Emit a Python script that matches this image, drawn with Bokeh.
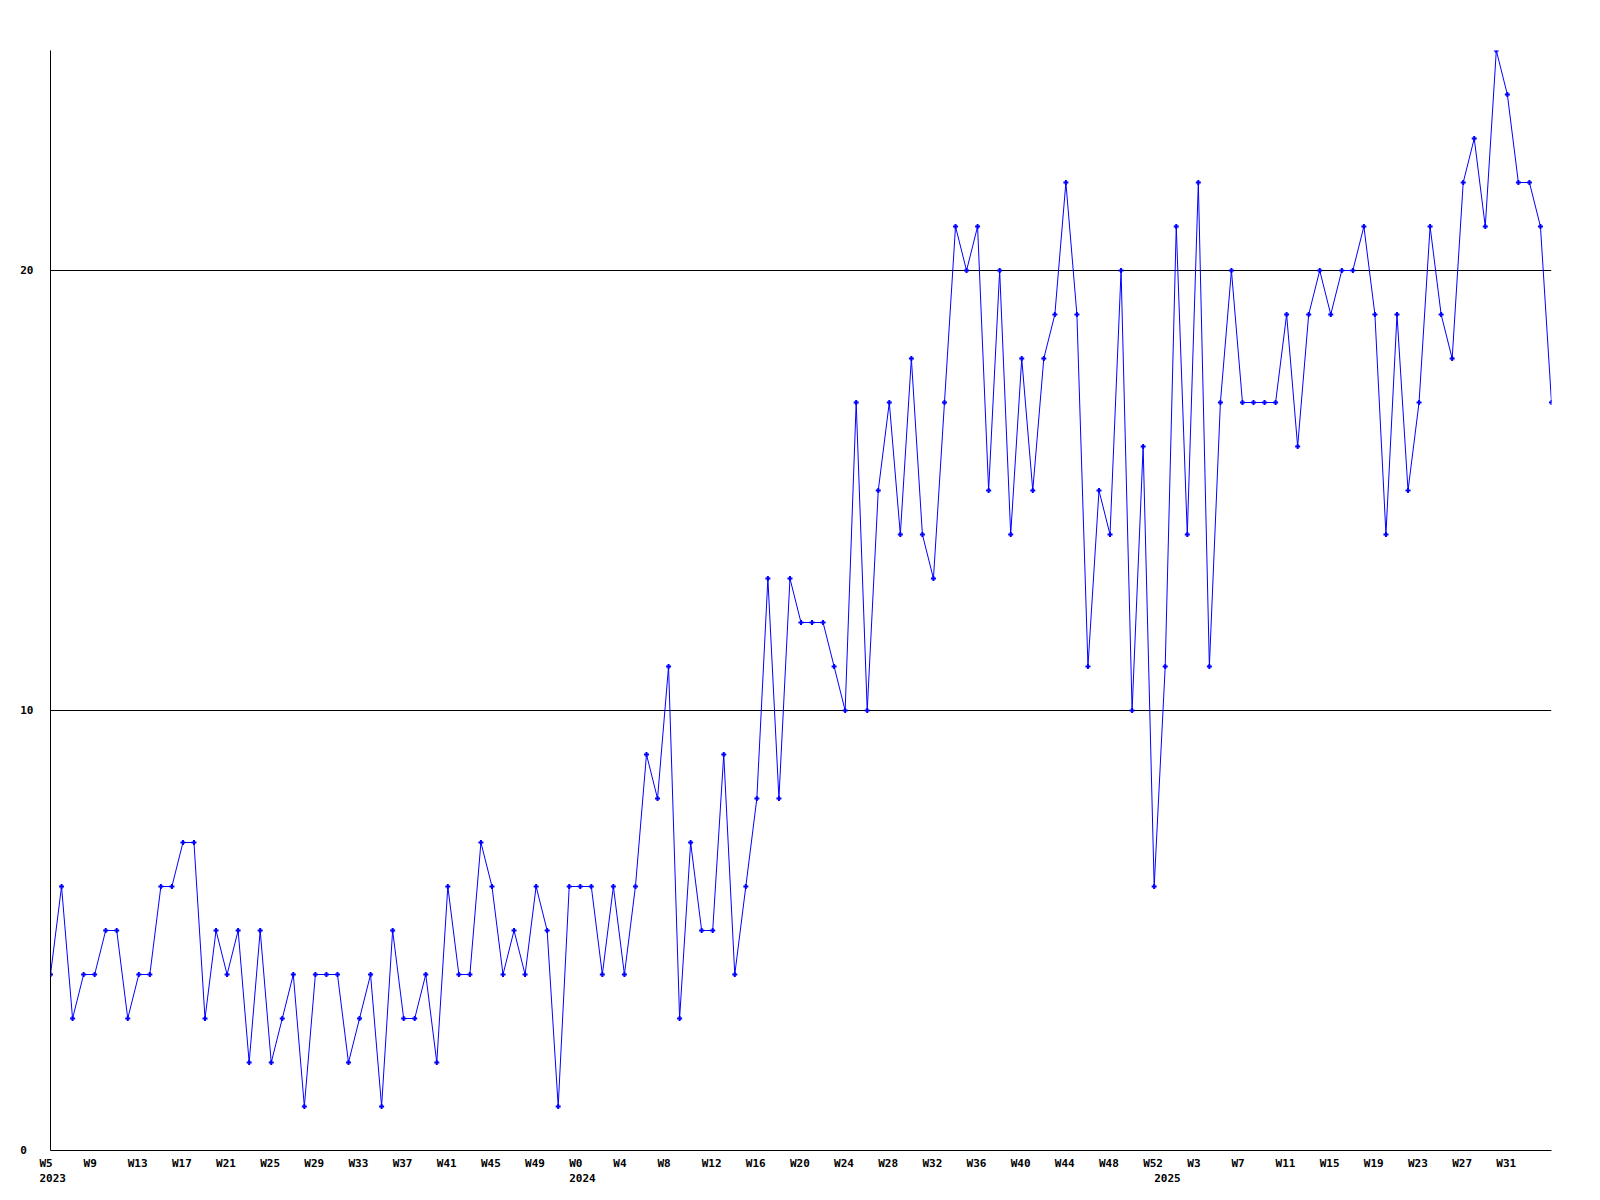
from bokeh.plotting import figure
from bokeh.models import (ColumnDataSource, FixedTicker, Range1d, LinearAxis, Grid)
from bokeh.embed import file_html
from bokeh.resources import INLINE

# ---- data ----
years = [2023] * 48 + [2024] * 53 + [2025] * 36
weeks = list(range(5, 53)) + list(range(0, 53)) + list(range(0, 36))
values = [
    4, 6, 3, 4, 4, 5, 5, 3, 4, 4, 6, 6, 7, 7, 3, 5, 4, 5, 2, 5, 2, 3, 4, 1,
    4, 4, 4, 2, 3, 4, 1, 5, 3, 3, 4, 2, 6, 4, 4, 7, 6, 4, 5, 4, 6, 5, 1, 6,
    6, 6, 4, 6, 4, 6, 9, 8, 11, 3, 7, 5, 5, 9, 4, 6, 8, 13, 8, 13, 12,
    12, 12, 11, 10, 17, 10, 15, 17, 14, 18, 14, 13, 17, 21, 20, 21, 15, 20,
    14, 18, 15, 18, 19, 22, 19, 11, 15, 14, 20, 10, 16, 6, 11, 21, 14, 22,
    11, 17, 20, 17, 17, 17, 17, 19, 16, 19, 20, 19, 20, 20, 21, 19, 14, 19,
    15, 17, 21, 19, 18, 22, 23, 21, 25, 24, 22, 22, 21, 17,
]
y_ticks = [0, 10, 20]
tick_every = 4

FONT = "DejaVu Sans Mono"
NB = "\u00a0"
idx = list(range(len(values)))
n = len(values)

FRAME_W, FRAME_H = 1501, 1100
p = figure(width=1590, height=1190, output_backend="svg", toolbar_location=None,
           x_axis_location=None, y_axis_location=None,
           min_border_left=50, min_border_right=1590 - 50 - FRAME_W,
           min_border_top=50, min_border_bottom=1190 - 50 - FRAME_H,
           x_range=Range1d(0, n - 1), y_range=Range1d(0, 25))
p.outline_line_color = None
p.background_fill_color = "white"
p.border_fill_color = "white"
p.xgrid.visible = False
p.ygrid.visible = False

# label range: shifted so that labels (left edge ~11px before the point) line up
px_per_x = FRAME_W / (n - 1)
shift = 2.2 / px_per_x
p.extra_x_ranges = {"lab": Range1d(-shift, n - 1 - shift)}


def style(ax):
    ax.major_tick_line_color = None
    ax.minor_tick_line_color = None
    ax.major_tick_out = 0
    ax.major_tick_in = 0
    ax.minor_tick_out = 0
    ax.major_label_text_font = FONT
    ax.major_label_text_font_style = "bold"
    ax.major_label_text_font_size = "11px"
    ax.major_label_text_color = "black"
    ax.axis_line_color = "black"
    ax.axis_line_width = 1


# week labels (every 4th point)
tx = [i for i in idx if i % tick_every == 0]
wk_axis = LinearAxis(x_range_name="lab", ticker=FixedTicker(ticks=tx),
                     major_label_overrides={i: ("W%d" % weeks[i]).ljust(4, NB) for i in tx})
style(wk_axis)
wk_axis.major_label_standoff = 6
p.add_layout(wk_axis, "below")

# year labels (first week of every year)
yx = [i for i in idx if i == 0 or years[i] != years[i - 1]]
yr_axis = LinearAxis(x_range_name="lab", ticker=FixedTicker(ticks=yx),
                     major_label_overrides={i: str(years[i]) for i in yx})
style(yr_axis)
yr_axis.axis_line_color = None
yr_axis.major_label_standoff = 1
p.add_layout(yr_axis, "below")

# y axis
y_axis = LinearAxis(ticker=FixedTicker(ticks=y_ticks),
                    major_label_overrides={v: str(v).ljust(2, NB) for v in y_ticks})
style(y_axis)
y_axis.major_label_standoff = 17
p.add_layout(y_axis, "left")

grid = Grid(dimension=1, ticker=FixedTicker(ticks=[t for t in y_ticks if t > 0]),
            grid_line_color="black", grid_line_width=1)
p.add_layout(grid)

src = ColumnDataSource(dict(x=idx, y=values))
p.line("x", "y", source=src, line_color="#0000ff", line_width=1)
p.scatter("x", "y", source=src, marker="cross", size=5, line_color="#0000ff", line_width=2)

open("out.html", "w").write(file_html(p, INLINE))
